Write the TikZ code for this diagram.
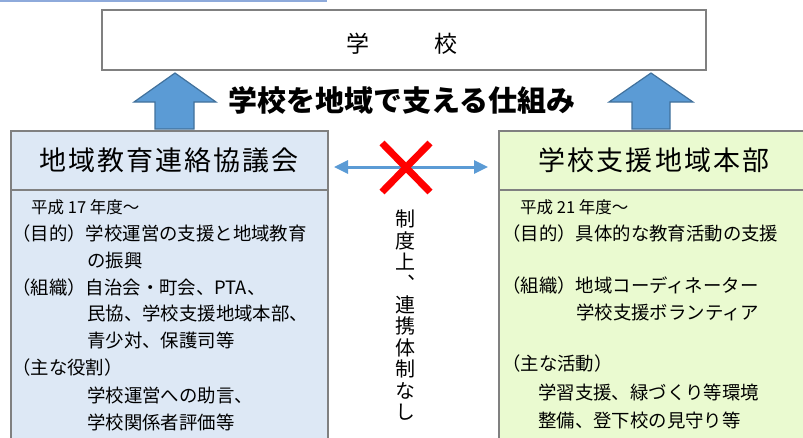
\documentclass[tikz,border=0pt]{standalone}
\usepackage{fontspec}
\setmainfont{Noto Sans CJK JP}
\newfontfamily\jp{Noto Sans CJK JP}
\newfontfamily\jpwide[LetterSpace=7.5]{Noto Sans CJK JP}
\newfontfamily\jpvert[RawFeature=+vert]{Noto Sans CJK JP}
\usetikzlibrary{arrows.meta}
\definecolor{boxline}{HTML}{808080}
\definecolor{lfill}{HTML}{DDE8F5}
\definecolor{rfill}{HTML}{EAFAD0}
\definecolor{arrfill}{HTML}{5B9BD5}
\definecolor{arrline}{HTML}{41719C}
\definecolor{topline}{HTML}{8EAADB}
\tikzset{
  frame/.style={draw=boxline, line width=2pt},
  headtxt/.style={font=\jpwide\fontsize{27}{30}\selectfont},
  bodytxt/.style={font=\jp\fontsize{18.4}{22}\selectfont, anchor=base west, inner sep=0pt},
  yeartxt/.style={font=\jp\fontsize{16.5}{20}\selectfont, anchor=base west, inner sep=0pt},
  blockarrow/.style={fill=arrfill, draw=arrline, line width=1.2pt, line join=miter},
}
\begin{document}
\begin{tikzpicture}[x=1pt, y=-1pt]
\useasboundingbox (0,0) rectangle (803,437);
\clip (0,0) rectangle (803,437);
% top blue line
\draw[topline, line width=2pt] (0,0.5) -- (327,0.5);
% school box
\node[frame, minimum width=604pt, minimum height=60pt, inner sep=0pt] (school) at (404,40) {};
\node[font=\jp\fontsize{23}{26}\selectfont, inner sep=0pt] (schooltxt) at (402,44) {学\hspace{66pt}校};
% left box
\node[frame, fill=lfill, minimum width=317pt, minimum height=270pt, anchor=north west, inner sep=0pt] (lbody) at (10,189) {};
\node[frame, fill=lfill, minimum width=317pt, minimum height=59pt, anchor=north west, inner sep=0pt] (lhead) at (10,130) {};
\node[headtxt] (lheadtxt) at (169,160) {地域教育連絡協議会};
% right box
\node[frame, fill=rfill, minimum width=310pt, minimum height=270pt, anchor=north west, inner sep=0pt] (rbody) at (498,189) {};
\node[frame, fill=rfill, minimum width=310pt, minimum height=59pt, anchor=north west, inner sep=0pt] (rhead) at (498,130) {};
\node[headtxt] (rheadtxt) at (654,160) {学校支援地域本部};
% block arrows
\draw[blockarrow] (155,129) -- (155,102) -- (134,102) -- (175,73) -- (216,102) -- (194,102) -- (194,129) -- cycle;
\draw[blockarrow] (632,129) -- (632,102) -- (609,102) -- (651,73) -- (693,102) -- (670,102) -- (670,129) -- cycle;
% title
\node[font=\jp\bfseries\fontsize{29}{32}\selectfont, inner sep=0pt] (title) at (402,100) {学校を地域で支える仕組み};
% double arrow with cross
\coordinate (da) at (334,167);
\coordinate (db) at (488,167);
\draw[arrfill, line width=3pt, {Triangle[length=14pt,width=13pt]}-{Triangle[length=14pt,width=13pt]}] (da) -- (db);
\coordinate (x1) at (382,143);
\coordinate (x2) at (430,192);
\coordinate (x3) at (430,143);
\coordinate (x4) at (382,192);
\draw[red, line width=7pt] (x1) -- (x2);
\draw[red, line width=7pt] (x3) -- (x4);
% vertical text
\node[font=\jpvert\fontsize{20}{21.4}\selectfont, align=center, anchor=north, inner sep=0pt] (vtxt) at (405,210)
  {制\\度\\上\\、\\連\\携\\体\\制\\な\\し};
% left body text
\node[yeartxt] (l1) at (31,213) {平成 17 年度～};
\node[bodytxt] (l2) at (12,240) {（目的）学校運営の支援と地域教育};
\node[bodytxt] (l3) at (87,267) {の振興};
\node[bodytxt] (l4) at (12,294) {（組織）自治会・町会、PTA、};
\node[bodytxt] (l5) at (87,320) {民協、学校支援地域本部、};
\node[bodytxt] (l6) at (87,347) {青少対、保護司等};
\node[bodytxt] (l7) at (12,374) {（主な役割）};
\node[bodytxt] (l8) at (87,402) {学校運営への助言、};
\node[bodytxt] (l9) at (87,429) {学校関係者評価等};
% right body text
\node[yeartxt] (r1) at (520,213) {平成 21 年度～};
\node[bodytxt] (r2) at (502,240) {（目的）具体的な教育活動の支援};
\node[bodytxt] (r3) at (502,292) {（組織）地域コーディネーター};
\node[bodytxt] (r4) at (576,319) {学校支援ボランティア};
\node[bodytxt] (r5) at (502,370) {（主な活動）};
\node[bodytxt] (r6) at (538,399) {学習支援、緑づくり等環境};
\node[bodytxt] (r7) at (538,427) {整備、登下校の見守り等};
\end{tikzpicture}
\end{document}
